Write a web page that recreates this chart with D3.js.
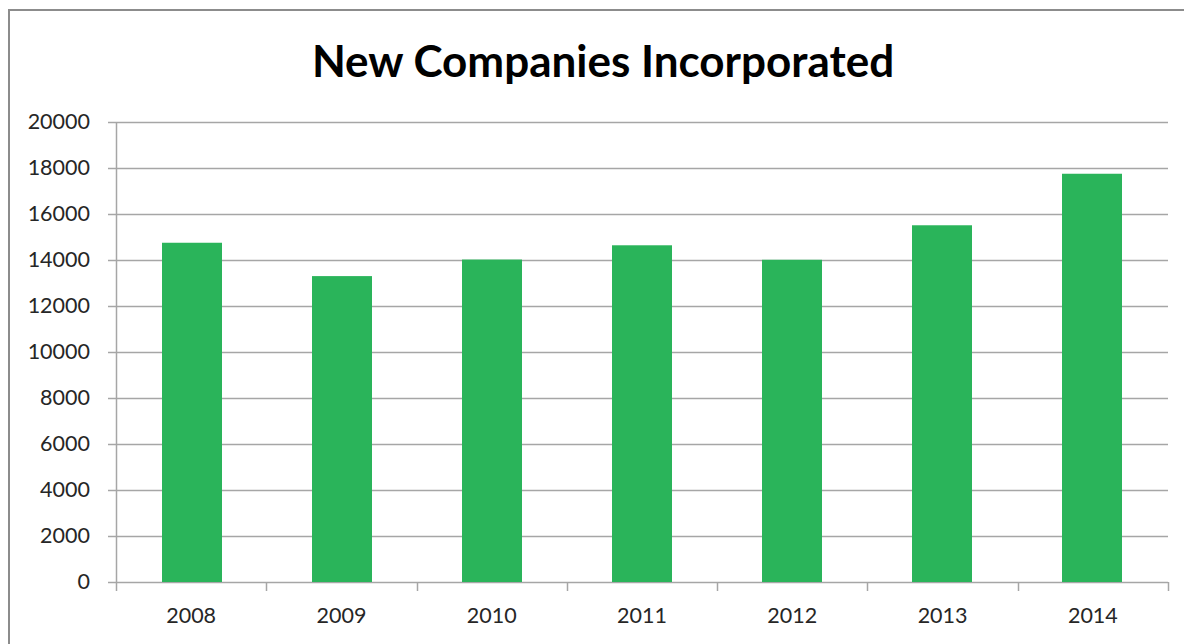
<!DOCTYPE html>
<html>
<head>
<meta charset="utf-8">
<script src="https://cdn.jsdelivr.net/npm/d3@7"></script>
<style>
  body { margin: 0; background: #fff; }
  svg { display: block; }
</style>
</head>
<body>
<svg width="1184" height="644"></svg>
<script>
var years = ["2008", "2009", "2010", "2011", "2012", "2013", "2014"];
var companies = [14750, 13300, 14020, 14640, 14010, 15510, 17750];
var yTicks = [0, 2000, 4000, 6000, 8000, 10000, 12000, 14000, 16000, 18000, 20000];

var svg = d3.select("svg"),
  margin = {
    top: 122,
    right: 16,
    bottom: 62,
    left: 116
  },
  width = +svg.attr("width") - margin.left - margin.right,
  height = +svg.attr("height") - margin.top - margin.bottom;

// chart frame, cut off on the right and bottom like the screenshot
svg.append("rect")
  .attr("x", 9)
  .attr("y", 10)
  .attr("width", 1200)
  .attr("height", 700)
  .attr("fill", "none")
  .attr("stroke", "#8c8c8c")
  .attr("stroke-width", 2);

svg.append("text")
  .attr("x", 603)
  .attr("y", 77)
  .attr("text-anchor", "middle")
  .attr("font-family", "Lato, 'Open Sans', sans-serif")
  .attr("font-weight", "bold")
  .attr("font-size", 44)
  .attr("fill", "#000")
  .text("New Companies Incorporated");

var x = d3.scaleBand().rangeRound([0, width]).domain(years)
  .paddingInner(0.6).paddingOuter(0.3),
  xCat = d3.scaleBand().range([0, width]).domain(years),
  y = d3.scaleLinear().range([height, 0]).domain([0, 20000]);

var g = svg.append("g")
  .attr("transform", "translate(" + margin.left + "," + margin.top + ")");

// gridlines
g.append("g")
  .selectAll("line")
  .data(yTicks)
  .enter()
  .append("line")
  .attr("x1", -8)
  .attr("x2", width)
  .attr("y1", function(d) { return Math.round(y(d)) + 0.5; })
  .attr("y2", function(d) { return Math.round(y(d)) + 0.5; })
  .attr("stroke", "#a6a6a6")
  .attr("stroke-width", 1.5);

g.selectAll(".bar")
  .data(years)
  .enter()
  .append("rect")
  .attr("class", "bar")
  .attr("x", function(d) { return x(d); })
  .attr("y", function(d, i) { return y(companies[i]); })
  .attr("width", x.bandwidth())
  .attr("height", function(d, i) { return height - y(companies[i]); })
  .attr("fill", "#2ab45a");

var yAxis = g.append("g")
  .call(d3.axisLeft(y).tickValues(yTicks).tickFormat(d3.format("d"))
    .tickSize(0).tickPadding(26));
yAxis.select(".domain")
  .attr("stroke", "#a6a6a6")
  .attr("stroke-width", 1.5);

var xAxis = g.append("g")
  .attr("transform", "translate(0," + height + ")")
  .call(d3.axisBottom(xCat).tickSize(0).tickPadding(26));
xAxis.select(".domain").remove();

// category boundary ticks
xAxis.selectAll(".sep")
  .data(d3.range(years.length + 1))
  .enter()
  .append("line")
  .attr("class", "sep")
  .attr("x1", function(i) { return Math.round(i * xCat.step()) + 0.5; })
  .attr("x2", function(i) { return Math.round(i * xCat.step()) + 0.5; })
  .attr("y1", 0)
  .attr("y2", 9)
  .attr("stroke", "#a6a6a6")
  .attr("stroke-width", 1.5);

svg.selectAll(".tick text")
  .attr("font-family", "Lato, 'Open Sans', sans-serif")
  .attr("font-size", 21.5)
  .attr("fill", "#262626");
</script>
</body>
</html>
